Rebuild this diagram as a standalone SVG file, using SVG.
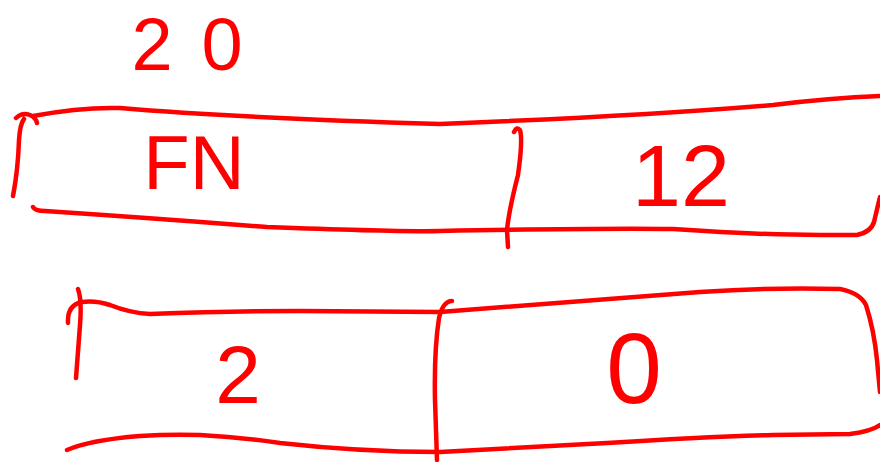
<svg xmlns="http://www.w3.org/2000/svg" width="880" height="462" viewBox="0 0 880 462">
<style>
.ink{fill:none;stroke:#ff0000;stroke-width:4.5;stroke-linecap:round;stroke-linejoin:round}
.lbl{fill:#ff0000;font-family:"Liberation Sans","DejaVu Sans",sans-serif;text-anchor:middle}
</style>
<rect width="880" height="462" fill="#ffffff"/>
<g id="title">
<text class="lbl" x="152 222" y="70" font-size="74">20</text>
</g>
<g id="top-bar">
<path class="ink" d="M13,196 Q18,170 19,140 Q20,124 24,119 M16,118 Q22,112 30,115 Q36,118 37,123 M33,116 Q80,107 120,108 Q240,118 440,124 Q640,116 773,105 Q830,98 880,96"/>
<path class="ink" d="M33,207 Q35,211 45,211 Q150,218 267,227 Q400,232 440,231 Q600,228 673,229 Q760,235 820,235 L857,235 Q871,232 874,222 Q878,205 880,197"/>
<path class="ink" d="M514,132 Q517,126 520,130 Q523,140 518,175 Q509,210 507,230 L508,247"/>
<g id="cell-fn"><text class="lbl" x="194" y="189" font-size="76">FN</text></g>
<g id="cell-12"><text class="lbl" x="681" y="206" font-size="88">12</text></g>
</g>
<g id="bottom-bar">
<path class="ink" d="M78,289 Q82,300 80,325 L76,378 M68,323 Q67,305 82,302 Q95,300 110,305 Q130,313 150,314 Q230,311 300,311 L440,312 Q573,302 700,292 Q773,287 840,289 Q860,293 866,305 Q874,330 877,360 L880,392"/>
<path class="ink" d="M67,450 Q90,440 140,436 Q170,434 200,435 Q240,437 280,443 Q360,452 440,452 Q520,448 607,443 Q700,437 773,435 L850,434 Q872,431 880,425"/>
<path class="ink" d="M452,301 Q443,301 439,318 Q434,350 435,400 L437,460"/>
<g id="cell-2"><text class="lbl" x="238" y="403" font-size="82">2</text></g>
<g id="cell-0"><text class="lbl" x="634" y="403" font-size="100">0</text></g>
</g>
</svg>
